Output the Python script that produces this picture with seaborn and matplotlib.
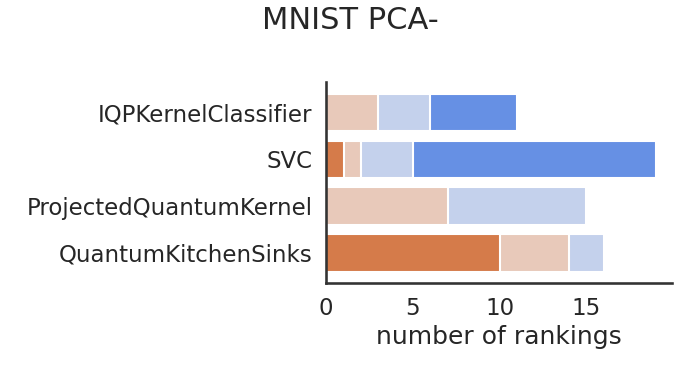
import matplotlib
matplotlib.use("Agg")
import matplotlib.pyplot as plt
import seaborn as sns
import numpy as np
import pandas as pd

categories = ["IQPKernelClassifier", "SVC", "ProjectedQuantumKernel", "QuantumKitchenSinks"]
rank1 = [0, 1, 0, 10]
rank2 = [3, 1, 7, 4]
rank3 = [3, 3, 8, 2]
rank4 = [5, 14, 0, 0]
colors = ["#d57b4a", "#e8c9ba", "#c4d1ec", "#6690e4"]

sns.set_theme(context="talk", style="white")
plt.rcParams['font.family'] = ['DejaVu Sans']

fig = plt.figure(figsize=(7, 3.76), dpi=100)
ax = fig.add_axes([0.466, 0.248, 0.494, 0.533])

series = [rank1, rank2, rank3, rank4]
cum = np.cumsum(np.array(series), axis=0)
for i in range(3, -1, -1):
    df = pd.DataFrame({"cat": categories, "val": cum[i]})
    sns.barplot(data=df, x="val", y="cat", color=colors[i], saturation=1, ax=ax, orient="h", width=0.8)

ax.set_xlim(0, 19.95)
ax.set_ylim(3.64, -0.65)
ax.set_xticks([0, 5, 10, 15])
ax.set_xlabel("number of rankings")
ax.set_ylabel("")
ax.tick_params(axis="both", pad=0.9)
sns.despine(ax=ax)
for s in ["left", "bottom"]:
    ax.spines[s].set_color("#333333")
fig.suptitle("MNIST PCA-", fontsize=22, y=0.985)
fig.savefig("out.png", dpi=100)
